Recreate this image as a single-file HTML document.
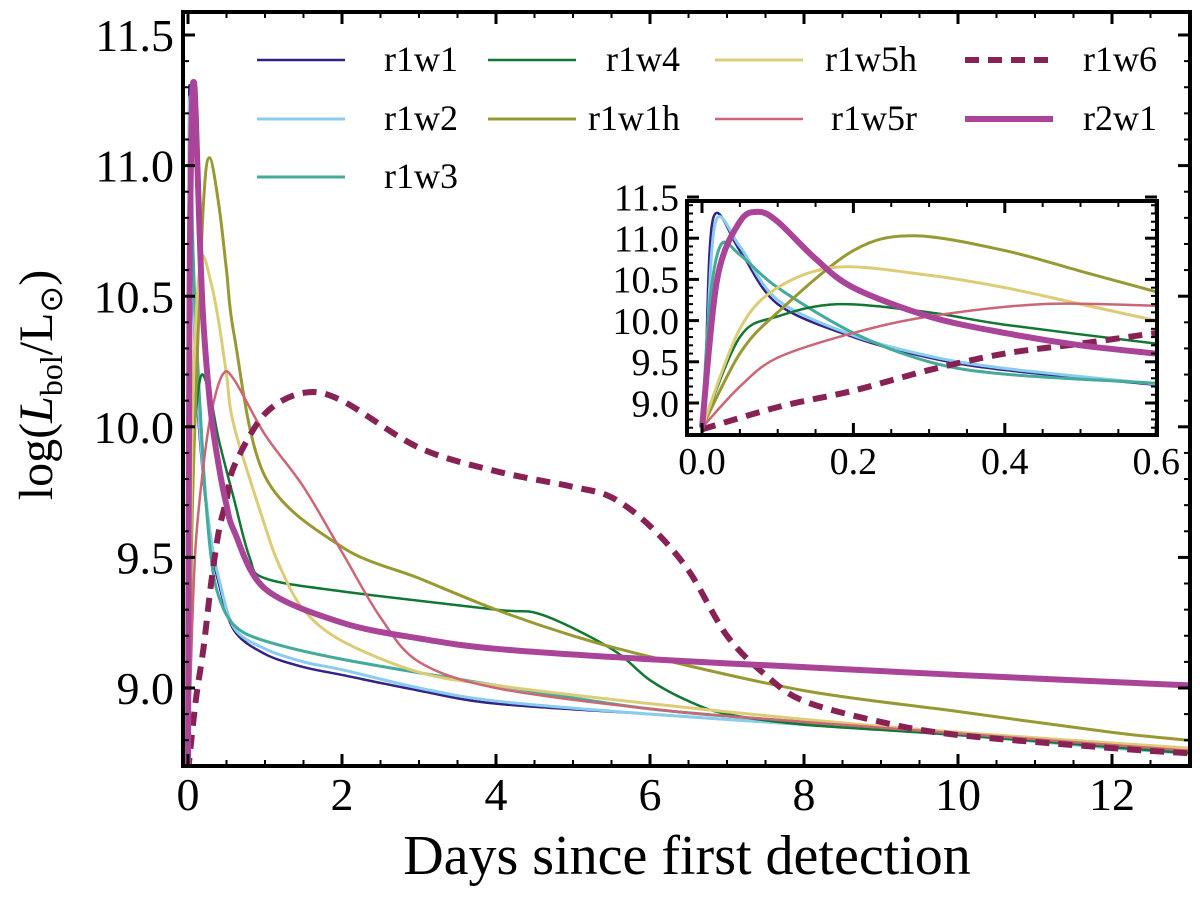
<!DOCTYPE html>
<html><head><meta charset="utf-8"><style>
body{margin:0;background:#fff}
svg{display:block;font-family:"Liberation Serif",serif}
</style></head><body>
<svg id="chart" width="1200" height="897" viewBox="0 0 1200 897">
<defs>
<clipPath id="cm"><rect x="183" y="12" width="1007" height="754"/></clipPath>
<clipPath id="ci"><rect x="687" y="201" width="470" height="234"/></clipPath>
</defs>
<g id="main"></g>
<g id="inset"></g>
<g id="legend"></g>
<text x="687" y="874" font-size="56" text-anchor="middle">Days since first detection</text>
<text transform="translate(52,385) rotate(-90)" font-size="48" text-anchor="middle">log(<tspan font-style="italic">L</tspan><tspan font-size="32" dy="10">bol</tspan><tspan dy="-10">/L</tspan><tspan font-size="32" dy="10">⊙</tspan><tspan dy="-10">)</tspan></text>
</svg>
<script>
const seriesNames=["r1w1","r1w2","r1w3","r1w4","r1w1h","r1w5h","r1w5r","r1w6","r2w1"];
const r1w1T=[0,0.005,0.015,0.05,0.1,0.2,0.3,0.4,0.6,1,1.5,2,3,4,6,8,10,12,13];
const r1w1V=[8.7,9.5,11.25,10.85,10.2,9.8,9.55,9.4,9.22,9.13,9.08,9.05,8.99,8.94,8.9,8.86,8.82,8.77,8.75];
const r1w2T=[0,0.006,0.018,0.05,0.1,0.2,0.3,0.4,0.6,1,1.5,2,3,4,6,8,10,12,13];
const r1w2V=[8.7,9.6,11.2,10.9,10.25,9.82,9.57,9.42,9.23,9.15,9.1,9.07,9.0,8.95,8.9,8.86,8.82,8.77,8.75];
const r1w3T=[0,0.01,0.025,0.05,0.1,0.2,0.3,0.4,0.6,1,2,4,6,8,10,13];
const r1w3V=[8.7,10.2,10.92,10.8,10.4,9.85,9.5,9.35,9.24,9.18,9.11,9.01,8.92,8.87,8.83,8.75];
const r1w4T=[0,0.05,0.1,0.18,0.3,0.4,0.6,0.8,1,2,4,4.6,5.5,6,6.5,7,8,10,13];
const r1w4V=[8.7,9.8,10.05,10.2,10.1,9.95,9.72,9.5,9.42,9.37,9.3,9.28,9.15,9.03,8.95,8.9,8.86,8.82,8.75];
const r1w1hT=[0,0.05,0.1,0.2,0.28,0.4,0.5,0.6,1,2,3,4,5,6,8,10,12,13];
const r1w1hV=[8.7,9.6,10.1,10.85,11.03,10.85,10.6,10.35,9.81,9.54,9.42,9.3,9.2,9.12,8.99,8.91,8.83,8.8];
const r1w5hT=[0,0.05,0.1,0.18,0.3,0.4,0.5,0.6,1,1.2,1.5,2,3,4,6,8,10,13];
const r1w5hV=[8.7,9.9,10.4,10.65,10.55,10.4,10.2,10.0,9.62,9.46,9.3,9.18,9.06,9.01,8.94,8.88,8.83,8.77];
const r1w5rT=[0,0.05,0.1,0.2,0.3,0.45,0.6,1,1.5,2,2.5,3,4,6,8,13];
const r1w5rV=[8.7,9.2,9.55,9.85,10.05,10.2,10.18,9.97,9.77,9.52,9.27,9.1,9.0,8.92,8.87,8.76];
const r1w6T=[0,0.1,0.2,0.3,0.4,0.5,0.6,1,1.5,2,3,4,5,5.5,6,6.5,7,7.5,8,9,10,12,13];
const r1w6V=[8.68,8.95,9.15,9.4,9.6,9.72,9.85,10.05,10.13,10.1,9.92,9.83,9.77,9.73,9.62,9.45,9.2,9.05,8.95,8.87,8.82,8.77,8.75];
const r2w1T=[0,0.02,0.05,0.075,0.1,0.15,0.2,0.3,0.4,0.5,0.6,1,2,3,4,6,8,10,13];
const r2w1V=[8.7,10.5,11.2,11.32,11.2,10.75,10.4,10.05,9.85,9.7,9.6,9.38,9.25,9.19,9.15,9.11,9.08,9.05,9.01];
const mainYTicks=["9.0","9.5","10.0","10.5","11.0","11.5"];
const mainXTicks=["0","2","4","6","8","10","12"];
const insetXTicks=["0.0","0.2","0.4","0.6"];
const insetYTicks=["9.0","9.5","10.0","10.5","11.0","11.5"];

const T=[r1w1T,r1w2T,r1w3T,r1w4T,r1w1hT,r1w5hT,r1w5rT,r1w6T,r2w1T];
const V=[r1w1V,r1w2V,r1w3V,r1w4V,r1w1hV,r1w5hV,r1w5rV,r1w6V,r2w1V];
const colors=["#332288","#88CCEE","#44AA99","#117733","#999933","#DDCC77","#CC6677","#882255","#AA4499"];
const widths=[2.5,3,3,2.5,3,3,2.5,6,6];
const NS="http://www.w3.org/2000/svg";
function el(tag,attrs,parent){const e=document.createElementNS(NS,tag);for(const k in attrs)e.setAttribute(k,attrs[k]);parent.appendChild(e);return e;}
function pathD(xs,ys){let d="M"+xs[0]+","+ys[0];
 for(let i=0;i<xs.length-1;i++){const x0=xs[Math.max(0,i-1)],y0=ys[Math.max(0,i-1)],x1=xs[i],y1=ys[i],x2=xs[i+1],y2=ys[i+1],x3=xs[Math.min(xs.length-1,i+2)],y3=ys[Math.min(xs.length-1,i+2)];
 const t=0.16;d+=" C"+(x1+(x2-x0)*t)+","+(y1+(y2-y0)*t)+" "+(x2-(x3-x1)*t)+","+(y2-(y3-y1)*t)+" "+x2+","+y2;}return d;}

function drawPanel(g,sx,sy,box,clip,xt,yt,xtv,ytv,fs,xlY,ylX,minorX,minorY,xmax){
 for(let i=0;i<T.length;i++){
  const xs=[],ys=[];T[i].forEach((t,j)=>{if(t<=xmax*1.3){xs.push(sx(t));ys.push(sy(V[i][j]));}});
  const p=el("path",{d:pathD(xs,ys),fill:"none",stroke:colors[i],"stroke-width":widths[i],"clip-path":"url(#"+clip+")","stroke-linejoin":"round"},g);
  if(i===7)p.setAttribute("stroke-dasharray","14,9");
  
  
 }
 const r=el("rect",{x:box[0],y:box[1],width:box[2]-box[0],height:box[3]-box[1],fill:"none",stroke:"#000","stroke-width":4},g);
 
 
 xtv.forEach((v,i)=>{const x=sx(v);
  el("line",{x1:x,x2:x,y1:box[3],y2:box[3]-12,stroke:"#000","stroke-width":3},g);
  el("line",{x1:x,x2:x,y1:box[1],y2:box[1]+12,stroke:"#000","stroke-width":3},g);
  const t=el("text",{x:x,y:xlY,"font-size":fs,"text-anchor":"middle"},g);t.textContent=xt[i];
  
  });
 ytv.forEach((v,i)=>{const y=sy(v);
  el("line",{x1:box[0],x2:box[0]+12,y1:y,y2:y,stroke:"#000","stroke-width":3},g);
  el("line",{x1:box[2],x2:box[2]-12,y1:y,y2:y,stroke:"#000","stroke-width":3},g);
  const t=el("text",{x:ylX,y:y+fs*0.35,"font-size":fs,"text-anchor":"end"},g);t.textContent=yt[i];
  
  });
 minorX.forEach(v=>{const x=sx(v);el("line",{x1:x,x2:x,y1:box[3],y2:box[3]-6,stroke:"#000","stroke-width":2},g);el("line",{x1:x,x2:x,y1:box[1],y2:box[1]+6,stroke:"#000","stroke-width":2},g);});
 minorY.forEach(v=>{const y=sy(v);el("line",{x1:box[0],x2:box[0]+6,y1:y,y2:y,stroke:"#000","stroke-width":2},g);el("line",{x1:box[2],x2:box[2]-6,y1:y,y2:y,stroke:"#000","stroke-width":2},g);});
}
const mx=t=>188+t*77, my=v=>688-(v-9)*261.2;
const mmx=[],mmy=[];for(let k=1;k<26;k++)if(k%4)mmx.push(k*0.5);for(let k=88;k<116;k++)if(k%5)mmy.push(k/10);
drawPanel(document.getElementById("main"),mx,my,[183,12,1190,766],"cm",mainXTicks,mainYTicks,mainXTicks.map(Number),mainYTicks.map(Number),46,810,174,mmx,mmy,13);
const ix=t=>702+t*757, iy=v=>403-(v-9)*82.4;
const imx=[],imy=[];for(let k=1;k<12;k++)if(k%4)imx.push(k*0.05);for(let k=87;k<116;k++)if(k%5)imy.push(k/10);
const ig=document.getElementById("inset");
el("rect",{x:687,y:201,width:470,height:234,fill:"#fff"},ig);
drawPanel(ig,ix,iy,[687,201,1157,435],"ci",insetXTicks,insetYTicks,insetXTicks.map(Number),insetYTicks.map(Number),38,474,679,imx,imy,0.6);

const lg=document.getElementById("legend");
const lx=[257,488,715,965],ltx=[458,680,917,1157],ly=[60,119,177];
const pos=[[0,0],[0,1],[0,2],[1,0],[1,1],[2,0],[2,1],[3,0],[3,1]];
seriesNames.forEach((n,i)=>{const [c,r]=pos[i];const y=ly[r];
 const ln=el("line",{x1:lx[c],x2:lx[c]+88,y1:y,y2:y,stroke:colors[i],"stroke-width":widths[i]},lg);
 if(i===7)ln.setAttribute("stroke-dasharray","14,9");
 
 
 const t=el("text",{x:ltx[c],y:y+11,"font-size":36,"text-anchor":"end"},lg);t.textContent=n;
 
 
});
</script>
</body></html>
